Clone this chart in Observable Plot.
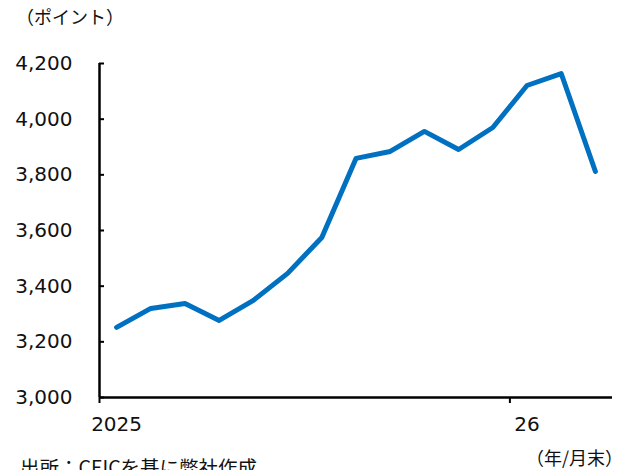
<!DOCTYPE html>
<html><head><meta charset="utf-8">
<script src="https://cdn.jsdelivr.net/npm/d3@7"></script>
<script src="https://cdn.jsdelivr.net/npm/@observablehq/plot@0.6"></script>
<style>
body{margin:0;background:#fff;font-family:"DejaVu Sans","Noto Sans CJK JP",sans-serif;}
#wrap{position:relative;width:623px;height:470px;overflow:hidden;}
.lab{position:absolute;font-family:"Noto Sans CJK JP",sans-serif;font-size:18px;color:#111;white-space:nowrap;line-height:1.2;}
</style></head>
<body><div id="wrap"></div>
<script>
const months = ["2025-01","2025-02","2025-03","2025-04","2025-05","2025-06","2025-07","2025-08","2025-09","2025-10","2025-11","2025-12","2026-01","2026-02","2026-03"];
const values = [3252,3320,3338,3277,3349,3446,3575,3859,3884,3956,3891,3970,4121,4164,3812];
const yTicks = [3000,3200,3400,3600,3800,4000,4200];
const xLabels = ["2025","26"];
const xLabelIdx = [0,12];
const yearBoundaries = [-0.5,11.5];

const data = months.map((m,i)=>({i, m, v: values[i]}));

const chart = Plot.plot({
  width: 623, height: 470,
  marginLeft: 99, marginRight: 11, marginTop: 63, marginBottom: 73,
  style: {fontFamily: "DejaVu Sans, sans-serif", fontSize: "20px", color: "#111", background: "#fff"},
  x: {domain: [-0.5, 14.5], axis: null, label: null},
  y: {domain: [3000, 4200], axis: null, label: null},
  marks: [
    Plot.axisY({ticks: yTicks, tickSize: 0, tickPadding: 27, tickFormat: d3.format(","), fontSize: 20, label: null}),
    Plot.axisY({ticks: yTicks, tickSize: 5, dx: 5, tickFormat: () => "", strokeWidth: 2, stroke: "#000", label: null}),
    Plot.ruleX([-0.5], {stroke: "#000", strokeWidth: 2.5}),
    Plot.ruleY([3000], {stroke: "#000", strokeWidth: 2.5}),
    Plot.axisX({ticks: yearBoundaries, tickSize: 6, tickFormat: () => "", stroke: "#000", strokeWidth: 2, label: null}),
    Plot.axisX({ticks: xLabelIdx, tickSize: 0, tickPadding: 19, tickFormat: (d) => xLabels[xLabelIdx.indexOf(d)], fontSize: 20, label: null}),
    Plot.line(data, {x: "i", y: "v", stroke: "#0070C0", strokeWidth: 5, strokeLinejoin: "round", strokeLinecap: "round"})
  ]
});
const wrap = document.getElementById("wrap");
wrap.appendChild(chart);
chart.style.position = "absolute"; chart.style.left = "0"; chart.style.top = "0";

function addLabel(text, css){
  const d = document.createElement("div");
  d.className = "lab"; d.textContent = text;
  Object.assign(d.style, css);
  wrap.appendChild(d);
}
addLabel("（ポイント）", {left: "16px", top: "6px"});
addLabel("（年/月末）", {left: "526px", top: "447px"});
addLabel("出所：CEICを基に弊社作成", {left: "20px", top: "455px", fontSize: "19.5px"});
</script></body></html>
